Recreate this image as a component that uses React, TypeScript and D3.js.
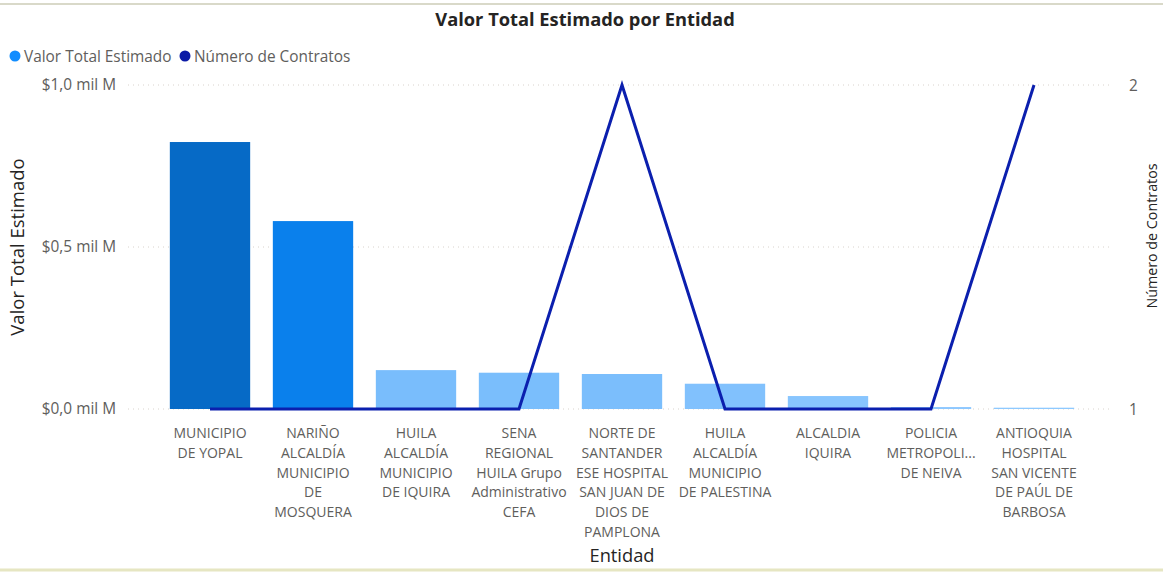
import React from 'react'
import * as d3 from 'd3'

// datos
const entidades: string[][] = [
  ['MUNICIPIO', 'DE YOPAL'],
  ['NARIÑO', 'ALCALDÍA', 'MUNICIPIO', 'DE', 'MOSQUERA'],
  ['HUILA', 'ALCALDÍA', 'MUNICIPIO', 'DE IQUIRA'],
  ['SENA', 'REGIONAL', 'HUILA Grupo', 'Administrativo', 'CEFA'],
  ['NORTE DE', 'SANTANDER', 'ESE HOSPITAL', 'SAN JUAN DE', 'DIOS DE', 'PAMPLONA'],
  ['HUILA', 'ALCALDÍA', 'MUNICIPIO', 'DE PALESTINA'],
  ['ALCALDIA', 'IQUIRA'],
  ['POLICIA', 'METROPOLI...', 'DE NEIVA'],
  ['ANTIOQUIA', 'HOSPITAL', 'SAN VICENTE', 'DE PAÚL DE', 'BARBOSA'],
]
// valor total estimado, en miles de millones
const valorTotal = [0.824, 0.58, 0.12, 0.112, 0.108, 0.078, 0.04, 0.006, 0.004]
const numContratos = [1, 1, 1, 1, 2, 1, 1, 1, 2]
const leftTicks = [0, 0.5, 1.0]
const rightTicks = [1, 2]

const W = 1163
const H = 573
const FONT = "'Open Sans', 'Noto Sans', sans-serif"

const fmtMil = (v: number) => `$${d3.format('.1f')(v).replace('.', ',')} mil M`

export default function App() {
  const idx = d3.range(entidades.length)
  const x = d3.scaleBand<number>().domain(idx).range([158.5, 1085.5]).paddingInner(0.22).paddingOuter(0.11)
  const yL = d3.scaleLinear().domain([0, 1]).range([409, 85])
  const yR = d3.scaleLinear().domain([1, 2]).range([409, 85])
  const color = d3.scaleLinear<string>()
    .domain([0, 0.12, 0.58, 0.824])
    .range(['#8fc9ff', '#79bdfc', '#0a80ec', '#066ac6'])
    .clamp(true)

  const cx = (i: number) => (x(i) || 0) + x.bandwidth() / 2
  const line = d3.line<number>().x((_, i) => cx(i)).y((d) => yR(d))

  return (
    <div style={{ position: 'fixed', top: 0, left: 0 }}>
      <svg width={W} height={H} style={{ display: 'block', background: '#fff', fontFamily: FONT }}>
        <line x1={0} x2={W} y1={4} y2={4} stroke="#d9d9c9" strokeWidth={2} />
        <line x1={0} x2={W} y1={570} y2={570} stroke="#e6e6c2" strokeWidth={3} />

        <text x={585} y={26} textAnchor="middle" fontSize={18.3} fontWeight="bold" fill="#252423">
          Valor Total Estimado por Entidad
        </text>

        {/* leyenda */}
        <circle cx={15} cy={56} r={5.5} fill="#118dff" />
        <text x={24} y={61.5} fontSize={15.4} fill="#605e5c">Valor Total Estimado</text>
        <circle cx={185} cy={56} r={5.5} fill="#0b1aa6" />
        <text x={194} y={61.5} fontSize={15.4} fill="#605e5c">Número de Contratos</text>

        {/* rejilla */}
        {leftTicks.map((t) => (
          <g key={t}>
            <line x1={128} x2={1112} y1={yL(t)} y2={yL(t)} stroke="#d8d2cc" strokeDasharray="1,4" />
            <text x={116} y={yL(t) + 5} textAnchor="end" fontSize={15.4} fill="#605e5c">{fmtMil(t)}</text>
          </g>
        ))}
        {rightTicks.map((t) => (
          <text key={t} x={1129} y={yR(t) + 5.5} fontSize={15.4} fill="#605e5c">{t}</text>
        ))}

        <text transform={`translate(24,247) rotate(-90)`} textAnchor="middle" fontSize={18.5} fill="#252423">
          Valor Total Estimado
        </text>
        <text transform={`translate(1157,236) rotate(-90)`} textAnchor="middle" fontSize={14.3} fill="#252423">
          Número de Contratos
        </text>

        {/* barras */}
        {valorTotal.map((v, i) => (
          <rect key={i} x={x(i)} y={yL(v)} width={x.bandwidth()} height={yL(0) - yL(v)} fill={color(v)} />
        ))}

        <path d={line(numContratos) || ''} fill="none" stroke="#0b1fae" strokeWidth={3} strokeLinejoin="miter" />

        {/* etiquetas del eje x */}
        {entidades.map((lines, i) => (
          <text key={i} x={cx(i)} y={438} textAnchor="middle" fontSize={14} fill="#605e5c">
            {lines.map((l, j) => (
              <tspan key={j} x={cx(i)} dy={j === 0 ? 0 : 19.8}>{l}</tspan>
            ))}
          </text>
        ))}

        <text x={622} y={562} textAnchor="middle" fontSize={18.3} fill="#252423">Entidad</text>
      </svg>
    </div>
  )
}
